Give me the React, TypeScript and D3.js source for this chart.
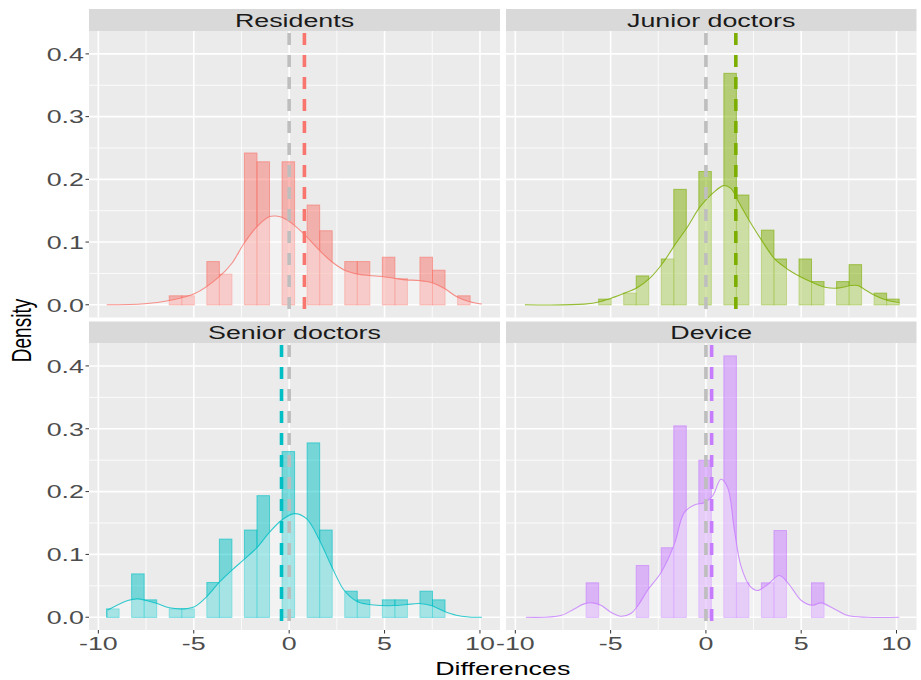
import React, { useEffect, useRef } from "react";
import * as d3 from "d3";

// facets, colours and group means (dashed lines)
const panels = ["Residents", "Junior doctors", "Senior doctors", "Device"];
const colors = ["#F8766D", "#7CAE00", "#00BFC4", "#C77CFF"];
const means = [0.8, 1.57, -0.4, 0.3];

// histogram: 30 bins, density per bin
const binStart = -9.57;
const binWidth = 0.657;
const residentsBins = [0, 0, 0, 0, 0, 0.0143, 0.0143, 0, 0.0689, 0.0488, 0, 0.242, 0.228, 0, 0.228, 0, 0.159, 0.118, 0, 0.0689, 0.0689, 0, 0.0758, 0.0413, 0, 0.0758, 0.0551, 0, 0.0143, 0];
const juniorBins = [0, 0, 0, 0, 0, 0, 0.009, 0, 0.0186, 0.046, 0, 0.073, 0.184, 0, 0.2125, 0, 0.369, 0.175, 0, 0.119, 0.073, 0, 0.073, 0.037, 0, 0.037, 0.064, 0, 0.0186, 0.009];
const seniorBins = [0.0133, 0, 0.069, 0.0277, 0, 0.0133, 0.0133, 0, 0.0553, 0.1244, 0, 0.1388, 0.1935, 0, 0.2637, 0, 0.2775, 0.1388, 0, 0.0415, 0.0277, 0, 0.0277, 0.0277, 0, 0.0415, 0.0277, 0, 0, 0];
const deviceBins = [0, 0, 0, 0, 0, 0.0548, 0, 0, 0, 0.0824, 0, 0.1106, 0.3046, 0, 0.25, 0, 0.416, 0.0548, 0, 0.0548, 0.138, 0, 0, 0.0548, 0, 0, 0, 0, 0, 0];

// kernel density curves, [x, density]
const residentsDensity = [[-9.56, 0], [-7.59, 0.0016], [-6.28, 0.0069], [-4.97, 0.0175], [-3.66, 0.045], [-3.0, 0.0662], [-2.36, 0.098], [-1.69, 0.1245], [-1.05, 0.1404], [-0.7, 0.1415], [-0.38, 0.1394], [0.26, 0.127], [0.91, 0.1086], [1.57, 0.0874], [2.22, 0.0689], [2.88, 0.0556], [3.54, 0.0493], [4.19, 0.0466], [4.83, 0.045], [5.5, 0.0424], [6.14, 0.0397], [6.81, 0.0387], [7.45, 0.0355], [8.12, 0.0265], [8.76, 0.0132], [9.42, 0.0053], [10.1, 0.0012]];
const juniorDensity = [[-9.5, 0], [-6.39, 0.001], [-5.51, 0.0053], [-4.81, 0.0122], [-4.25, 0.0186], [-3.59, 0.0276], [-2.94, 0.0424], [-2.27, 0.0662], [-1.63, 0.0954], [-0.96, 0.1245], [-0.31, 0.156], [0.35, 0.1775], [0.93, 0.19], [1.31, 0.1855], [1.66, 0.167], [2.31, 0.1325], [2.97, 0.1007], [3.62, 0.0726], [4.29, 0.0567], [4.93, 0.045], [5.6, 0.0355], [6.25, 0.028], [6.91, 0.0265], [7.61, 0.0307], [7.96, 0.0307], [8.31, 0.0249], [8.87, 0.0148], [9.54, 0.0069], [10.15, 0.0037]];
const seniorDensity = [[-9.5, 0.0115], [-8.46, 0.0266], [-7.94, 0.0293], [-6.93, 0.0218], [-6.28, 0.015], [-5.5, 0.0134], [-4.97, 0.0166], [-4.33, 0.0325], [-3.66, 0.0558], [-3.0, 0.075], [-2.36, 0.092], [-1.69, 0.1107], [-1.05, 0.1346], [-0.38, 0.1547], [0.26, 0.1649], [0.91, 0.157], [1.57, 0.1239], [2.22, 0.0813], [2.88, 0.043], [3.54, 0.0255], [4.19, 0.0202], [4.83, 0.0186], [5.5, 0.0186], [6.14, 0.0202], [6.81, 0.0218], [7.45, 0.0186], [8.12, 0.0096], [8.76, 0.0032], [9.42, 0.0005], [10.1, 0]];
const deviceDensity = [[-9.45, 0], [-7.61, 0.0027], [-6.91, 0.0133], [-6.39, 0.0213], [-5.95, 0.0229], [-5.51, 0.0191], [-4.99, 0.008], [-4.46, 0.0016], [-3.94, 0.0059], [-3.59, 0.0175], [-3.06, 0.043], [-2.36, 0.0708], [-1.66, 0.116], [-1.14, 0.1665], [-0.61, 0.1787], [-0.09, 0.1824], [0.35, 0.193], [0.79, 0.2196], [1.14, 0.2063], [1.49, 0.1398], [1.84, 0.0813], [2.31, 0.0494], [2.71, 0.0425], [3.24, 0.0521], [3.85, 0.0665], [4.37, 0.0521], [4.99, 0.0271], [5.6, 0.0191], [6.04, 0.0229], [6.74, 0.0133], [7.44, 0.0027], [8.49, 0], [10.15, 0]];

const xTicks = [-10, -5, 0, 5, 10];
const xMinor = [-7.5, -2.5, 2.5, 7.5];
const yTicks = [0, 0.1, 0.2, 0.3, 0.4];
const yMinor = [0.05, 0.15, 0.25, 0.35];

const allBins = [residentsBins, juniorBins, seniorBins, deviceBins];
const allDensity = [residentsDensity, juniorDensity, seniorDensity, deviceDensity];

const FONT = "'Liberation Sans', Arial, sans-serif";
const SX = 1.45; // text in the reference is stretched horizontally

const App = () => {
  const ref = useRef(null);

  useEffect(() => {
    const width = 921;
    const height = 680;
    const cols = [
      { x0: 89, x1: 500 },
      { x0: 506, x1: 916.5 },
    ];
    const rows = [
      { s0: 9, s1: 31, p1: 317.5 },
      { s0: 321.5, s1: 343, p1: 630 },
    ];

    const svg = d3.select(ref.current);
    svg.selectAll("*").remove();
    svg.attr("width", width).attr("height", height).attr("viewBox", [0, 0, width, height]);
    svg.append("rect").attr("width", width).attr("height", height).attr("fill", "white");

    panels.forEach((name, i) => {
      const c = cols[i % 2];
      const r = rows[Math.floor(i / 2)];
      const color = colors[i];
      const x = d3.scaleLinear().domain([-10.49, 11.05]).range([c.x0, c.x1]);
      const y = d3.scaleLinear().domain([-0.0203, 0.4365]).range([r.p1, r.s1]);

      const g = svg.append("g");
      g.append("rect")
        .attr("x", c.x0)
        .attr("y", r.s1)
        .attr("width", c.x1 - c.x0)
        .attr("height", r.p1 - r.s1)
        .attr("fill", "#EBEBEB");

      // grid
      g.selectAll(".xminor")
        .data(xMinor)
        .join("line")
        .attr("x1", (d) => x(d))
        .attr("x2", (d) => x(d))
        .attr("y1", r.s1)
        .attr("y2", r.p1)
        .attr("stroke", "white")
        .attr("stroke-width", 0.8);
      g.selectAll(".yminor")
        .data(yMinor)
        .join("line")
        .attr("x1", c.x0)
        .attr("x2", c.x1)
        .attr("y1", (d) => y(d))
        .attr("y2", (d) => y(d))
        .attr("stroke", "white")
        .attr("stroke-width", 0.8);
      g.append("g")
        .selectAll("line")
        .data(xTicks)
        .join("line")
        .attr("x1", (d) => x(d))
        .attr("x2", (d) => x(d))
        .attr("y1", r.s1)
        .attr("y2", r.p1)
        .attr("stroke", "white")
        .attr("stroke-width", 1.6);
      g.append("g")
        .selectAll("line")
        .data(yTicks)
        .join("line")
        .attr("x1", c.x0)
        .attr("x2", c.x1)
        .attr("y1", (d) => y(d))
        .attr("y2", (d) => y(d))
        .attr("stroke", "white")
        .attr("stroke-width", 1.6);

      const clipId = "clip" + i;
      svg.append("clipPath")
        .attr("id", clipId)
        .append("rect")
        .attr("x", c.x0)
        .attr("y", r.s1)
        .attr("width", c.x1 - c.x0)
        .attr("height", r.p1 - r.s1);
      const pg = g.append("g").attr("clip-path", `url(#${clipId})`);

      // histogram
      pg.append("g")
        .selectAll("rect")
        .data(allBins[i])
        .join("rect")
        .attr("x", (d, k) => x(binStart + k * binWidth))
        .attr("width", (d, k) => x(binStart + (k + 1) * binWidth) - x(binStart + k * binWidth))
        .attr("y", (d) => y(d))
        .attr("height", (d) => y(0) - y(d))
        .attr("fill", color)
        .attr("fill-opacity", 0.5)
        .attr("stroke", color)
        .attr("stroke-opacity", 0.6)
        .attr("stroke-width", 1);

      // density
      const area = d3
        .area()
        .x((d) => x(d[0]))
        .y0(y(0))
        .y1((d) => y(d[1]))
        .curve(d3.curveCatmullRom);
      const line = d3
        .line()
        .x((d) => x(d[0]))
        .y((d) => y(d[1]))
        .curve(d3.curveCatmullRom);
      pg.append("path").attr("d", area(allDensity[i])).attr("fill", "white").attr("fill-opacity", 0.35);
      pg.append("path")
        .attr("d", line(allDensity[i]))
        .attr("fill", "none")
        .attr("stroke", color)
        .attr("stroke-opacity", 0.8)
        .attr("stroke-width", 1.1);

      // reference line at 0 and group mean
      [
        [0, "#BEBEBE"],
        [means[i], color],
      ].forEach(([v, col]) => {
        pg.append("line")
          .attr("x1", x(v))
          .attr("x2", x(v))
          .attr("y1", r.s1 + 2)
          .attr("y2", r.p1)
          .attr("stroke", col)
          .attr("stroke-width", 3.6)
          .attr("stroke-dasharray", "12,10");
      });

      // strip
      g.append("rect")
        .attr("x", c.x0)
        .attr("y", r.s0)
        .attr("width", c.x1 - c.x0)
        .attr("height", r.s1 - r.s0)
        .attr("fill", "#D9D9D9");
      g.append("text")
        .attr("transform", `translate(${(c.x0 + c.x1) / 2},${r.s1 - 4.5}) scale(${SX},1)`)
        .attr("text-anchor", "middle")
        .attr("font-family", FONT)
        .attr("font-size", 18.5)
        .attr("fill", "#1A1A1A")
        .text(name);

      // y axis
      if (i % 2 === 0) {
        yTicks.forEach((t) => {
          g.append("line")
            .attr("x1", c.x0 - 3.5)
            .attr("x2", c.x0)
            .attr("y1", y(t))
            .attr("y2", y(t))
            .attr("stroke", "#333333")
            .attr("stroke-width", 1);
          g.append("text")
            .attr("transform", `translate(${c.x0 - 5},${y(t) + 6.8}) scale(${SX},1)`)
            .attr("text-anchor", "end")
            .attr("font-family", FONT)
            .attr("font-size", 18.5)
            .attr("fill", "#4D4D4D")
            .text(d3.format(".1f")(t));
        });
      }

      // x axis
      if (i >= 2) {
        xTicks.forEach((t) => {
          g.append("line")
            .attr("x1", x(t))
            .attr("x2", x(t))
            .attr("y1", r.p1)
            .attr("y2", r.p1 + 3.5)
            .attr("stroke", "#333333")
            .attr("stroke-width", 1);
          g.append("text")
            .attr("transform", `translate(${x(t)},${r.p1 + 19.5}) scale(${SX},1)`)
            .attr("text-anchor", "middle")
            .attr("font-family", FONT)
            .attr("font-size", 18.5)
            .attr("fill", "#4D4D4D")
            .text(t);
        });
      }
    });

    // axis titles
    svg.append("text")
      .attr("transform", `translate(${(89 + 916.5) / 2},675) scale(${SX},1)`)
      .attr("text-anchor", "middle")
      .attr("font-family", FONT)
      .attr("font-size", 18.5)
      .attr("fill", "black")
      .text("Differences");
    svg.append("text")
      .attr("transform", `translate(31,${(31 + 630) / 2}) scale(${SX},1) rotate(-90)`)
      .attr("text-anchor", "middle")
      .attr("font-family", FONT)
      .attr("font-size", 19)
      .attr("fill", "black")
      .text("Density");
  }, []);

  return <svg ref={ref} style={{ position: "absolute", left: 0, top: 0 }}></svg>;
};

export default App;
